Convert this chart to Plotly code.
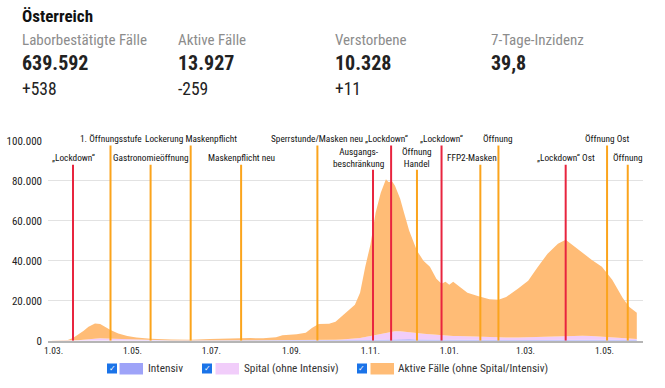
import plotly.graph_objects as go

# ---------------- data ----------------
dates = [
    "2020-02-26", "2020-03-08", "2020-03-12", "2020-03-16", "2020-03-20", "2020-03-24",
    "2020-03-28", "2020-04-02", "2020-04-06", "2020-04-10", "2020-04-14", "2020-04-20",
    "2020-04-27", "2020-05-04", "2020-05-15", "2020-05-31", "2020-06-15", "2020-06-30",
    "2020-07-15", "2020-07-31", "2020-08-10", "2020-08-20", "2020-08-25", "2020-09-05",
    "2020-09-12", "2020-09-17", "2020-09-22", "2020-09-30", "2020-10-05", "2020-10-10",
    "2020-10-15", "2020-10-20", "2020-10-24", "2020-10-28", "2020-11-01", "2020-11-05",
    "2020-11-09", "2020-11-13", "2020-11-15", "2020-11-18", "2020-11-20", "2020-11-24",
    "2020-11-27", "2020-12-01", "2020-12-07", "2020-12-12", "2020-12-17", "2020-12-22",
    "2020-12-26", "2020-12-29", "2021-01-01", "2021-01-04", "2021-01-08", "2021-01-15",
    "2021-01-23", "2021-02-01", "2021-02-08", "2021-02-14", "2021-02-23", "2021-03-03",
    "2021-03-10", "2021-03-18", "2021-03-26", "2021-04-01", "2021-04-06", "2021-04-14",
    "2021-04-21", "2021-04-29", "2021-05-07", "2021-05-15", "2021-05-20", "2021-05-26",
]
# total active cases (top of the orange area)
aktive_gesamt = [
    0, 100, 400, 1300, 2900, 4800,
    7000, 8600, 8300, 6800, 5300, 3600,
    2300, 1600, 1000, 600, 450, 800,
    1200, 1300, 1200, 1700, 2700, 3200,
    4000, 6500, 8300, 8500, 9500, 12500,
    15000, 18000, 24000, 37000, 48000, 64000,
    74000, 80700, 79300, 79500, 77500, 71000,
    64000, 55000, 45000, 40000, 37000, 31000,
    28500, 29500, 28000, 29500, 27500, 24000,
    22300, 20700, 20500, 21800, 26000, 30000,
    36500, 43500, 48500, 50500, 48000, 44000,
    40500, 37000, 30500, 21500, 17000, 13927,
]
# hospitalised incl. intensive care (top of the pink area)
spital_gesamt = [
    0, 0, 0, 50, 200, 500,
    800, 1100, 1200, 1100, 1000, 850,
    650, 450, 250, 130, 80, 80,
    100, 120, 120, 130, 140, 170,
    220, 250, 300, 350, 450, 600,
    750, 950, 1300, 1800, 2300, 2900,
    3500, 4100, 4400, 4650, 4750, 4750,
    4600, 4400, 3900, 3500, 3200, 2900,
    2700, 2550, 2450, 2400, 2350, 2150,
    1950, 1750, 1600, 1550, 1600, 1750,
    1900, 2100, 2300, 2450, 2500, 2450,
    2300, 2000, 1700, 1300, 1050, 850,
]
intensiv = [
    0, 0, 0, 10, 50, 100,
    180, 250, 260, 250, 230, 200,
    170, 130, 80, 40, 20, 15,
    15, 20, 20, 25, 25, 30,
    40, 50, 60, 70, 90, 110,
    140, 180, 230, 300, 370, 450,
    520, 580, 620, 650, 680, 700,
    700, 680, 620, 580, 540, 500,
    480, 460, 450, 440, 420, 390,
    350, 320, 300, 290, 300, 320,
    360, 420, 500, 560, 590, 600,
    580, 540, 480, 400, 350, 300,
]

y_ticks = [0, 20000, 40000, 60000, 80000, 100000]
y_tick_labels = ["0", "20.000", "40.000", "60.000", "80.000", "100.000"]
x_ticks = ["2020-03-01", "2020-05-01", "2020-07-01", "2020-09-01", "2020-11-01",
           "2021-01-01", "2021-03-01", "2021-05-01"]
x_tick_labels = ["1.03.", "1.05.", "1.07.", "1.09.", "1.11.", "1.01.", "1.03.", "1.05."]

ev_dates = ["2020-03-16", "2020-04-14", "2020-05-15", "2020-06-15", "2020-07-24",
            "2020-09-21", "2020-11-03", "2020-11-17", "2020-12-07", "2020-12-26",
            "2021-01-25", "2021-02-08", "2021-04-01", "2021-05-03", "2021-05-19"]
ev_labels = ["„Lockdown“", "1. Öffnungsstufe", "Gastronomieöffnung", "Lockerung Maskenpflicht",
             "Maskenpflicht neu", "Sperrstunde/Masken neu", "Ausgangs-<br>beschränkung",
             "„Lockdown“", "Öffnung<br>Handel", "„Lockdown“", "FFP2-Masken", "Öffnung",
             "„Lockdown“ Ost", "Öffnung Ost", "Öffnung"]
ev_kind = ["lockdown", "open", "open", "open", "open", "open", "lockdown", "lockdown",
           "open", "lockdown", "open", "open", "lockdown", "open", "open"]

header_labels = ["Laborbestätigte Fälle", "Aktive Fälle", "Verstorbene", "7-Tage-Inzidenz"]
header_values = ["639.592", "13.927", "10.328", "39,8"]
header_deltas = ["+538", "-259", "+11", ""]

legend_names = ["Intensiv", "Spital (ohne Intensiv)", "Aktive Fälle (ohne Spital/Intensiv)"]

# ---------------- styles ----------------
FONT = "Liberation Sans Narrow, Roboto Condensed, Arial Narrow, Roboto, sans-serif"
C_ICU = "#9ea3f8"
C_HOSP = "#f1cdfa"
C_ACT = "#ffbc76"
C_RED = "#e8253f"
C_ORA = "#fba41c"
C_BOX = "#1a73e8"

# plot area in pixels (whole figure is the paper; margins are 0)
W, H = 665, 388
L, R, T, B = 48, 643, 140.7, 340.7


def px(xp):
    return xp / W


def py(yp):
    return 1 - yp / H


ev_style = {
    0: dict(row="low", dx=0), 1: dict(row="high", dx=0), 2: dict(row="low", dx=0),
    3: dict(row="high", dx=0), 4: dict(row="low", dx=0), 5: dict(row="high", dx=0),
    6: dict(row="low2", dx=-15), 7: dict(row="high", dx=-5), 8: dict(row="low2", dx=0),
    9: dict(row="high", dx=0), 10: dict(row="low", dx=-8), 11: dict(row="high", dx=0),
    12: dict(row="low", dx=0), 13: dict(row="high", dx=0), 14: dict(row="low", dx=0),
}
row_top = {"high": 98000, "low": 88000, "low2": 85500}
row_text_y = {"high": 100000, "low": 91700, "low2": 91700}

# ---------------- figure ----------------
spital_only = [s - i for s, i in zip(spital_gesamt, intensiv)]
aktive_only = [a - s for a, s in zip(aktive_gesamt, spital_gesamt)]

fig = go.Figure()
for name, vals, col in [(legend_names[0], intensiv, C_ICU),
                        (legend_names[1], spital_only, C_HOSP),
                        (legend_names[2], aktive_only, C_ACT)]:
    fig.add_trace(go.Scatter(x=dates, y=vals, name=name, stackgroup="one", mode="lines",
                             line=dict(width=0, color=col), fillcolor=col,
                             showlegend=False, hoverinfo="skip"))

shapes = []
annotations = []
for i, (d, lab, kind) in enumerate(zip(ev_dates, ev_labels, ev_kind)):
    st = ev_style[i]
    col = C_RED if kind == "lockdown" else C_ORA
    shapes.append(dict(type="line", xref="x", yref="y", x0=d, x1=d, y0=0,
                       y1=row_top[st["row"]], line=dict(color=col, width=2), layer="above"))
    high = st["row"] == "high"
    annotations.append(dict(x=d, y=row_text_y[st["row"]], xref="x", yref="y", text=lab,
                            showarrow=False, xanchor="center", yanchor="middle",
                            xshift=st["dx"], yshift=2 if high else 0,
                            font=dict(family=FONT, size=9.3, color="#111"),
                            bgcolor="white" if high else None, borderpad=1))

# header
annotations.append(dict(x=px(20), y=py(16), xref="paper", yref="paper", text="<b>Österreich</b>",
                        showarrow=False, xanchor="left", yanchor="middle",
                        font=dict(family=FONT, size=17, color="#111")))
col_x = [20, 176, 333, 489]
for cx, lab, val, dl in zip(col_x, header_labels, header_values, header_deltas):
    annotations.append(dict(x=px(cx), y=py(40), xref="paper", yref="paper", text=lab,
                            showarrow=False, xanchor="left", yanchor="middle",
                            font=dict(family=FONT, size=15, color="#8c8c8c")))
    annotations.append(dict(x=px(cx), y=py(63), xref="paper", yref="paper", text=f"<b>{val}</b>",
                            showarrow=False, xanchor="left", yanchor="middle",
                            font=dict(family=FONT, size=20, color="#222")))
    if dl:
        annotations.append(dict(x=px(cx), y=py(89), xref="paper", yref="paper", text=dl,
                                showarrow=False, xanchor="left", yanchor="middle",
                                font=dict(family=FONT, size=17.5, color="#222")))

# custom legend with checkboxes
leg_box_x = [107, 202, 357]
leg_sw_x = [119.5, 215.5, 370.5]
leg_cols = [C_ICU, C_HOSP, C_ACT]
for bx, sx, col, name in zip(leg_box_x, leg_sw_x, leg_cols, legend_names):
    shapes.append(dict(type="rect", xref="paper", yref="paper", x0=px(bx), x1=px(bx + 10),
                       y0=py(373.5), y1=py(363.5), fillcolor=C_BOX, line=dict(width=0)))
    annotations.append(dict(x=px(bx + 5), y=py(368.5), xref="paper", yref="paper", text="<b>✓</b>",
                            showarrow=False, xanchor="center", yanchor="middle",
                            font=dict(family="DejaVu Sans", size=8, color="white")))
    shapes.append(dict(type="rect", xref="paper", yref="paper", x0=px(sx), x1=px(sx + 23.5),
                       y0=py(374.5), y1=py(363), fillcolor=col, line=dict(width=0)))
    annotations.append(dict(x=px(sx + 26), y=py(368.5), xref="paper", yref="paper", text=name,
                            showarrow=False, xanchor="left", yanchor="middle",
                            font=dict(family=FONT, size=11.3, color="#333")))

fig.update_layout(
    width=W, height=H,
    margin=dict(l=0, r=0, t=0, b=0, pad=0, autoexpand=False),
    paper_bgcolor="white", plot_bgcolor="white",
    shapes=shapes, annotations=annotations,
    showlegend=False,
    xaxis=dict(domain=[L / W, R / W], range=["2020-02-25 16:00", "2021-05-30 19:00"],
               tickvals=x_ticks, ticktext=x_tick_labels, showgrid=False, zeroline=False,
               showline=True, linecolor="#b5b5b5", linewidth=2, ticks="", automargin=False,
               tickfont=dict(family=FONT, size=9.5, color="#222")),
    yaxis=dict(domain=[1 - B / H, 1 - T / H], range=[0, 100000], tickvals=y_ticks,
               ticktext=y_tick_labels, showgrid=True, gridcolor="#e2e2e2", gridwidth=1,
               zeroline=False, showline=False, ticks="", ticklabelstandoff=5, automargin=False,
               tickfont=dict(family=FONT, size=11, color="#222")),
)

fig.write_html("out.html", config={"displayModeBar": False},
               post_script="document.body.style.margin='0';document.body.style.padding='0';")
